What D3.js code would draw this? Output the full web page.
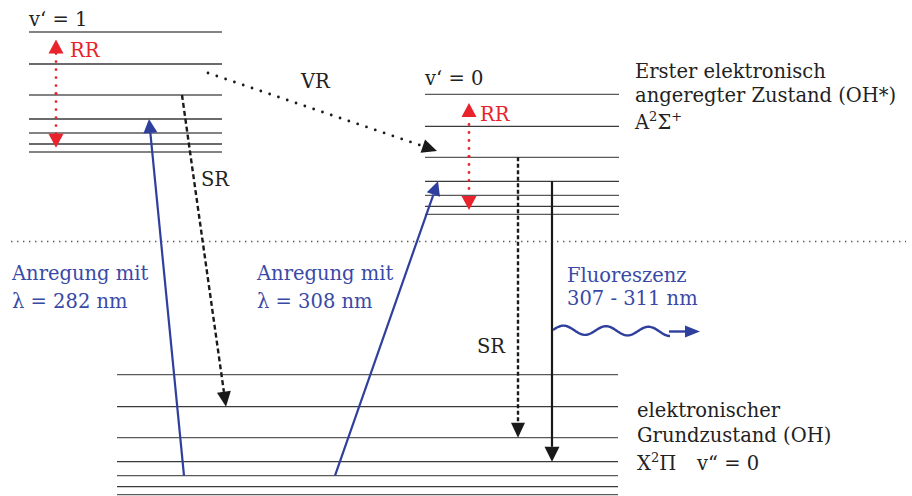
<!DOCTYPE html>
<html>
<head>
<meta charset="utf-8">
<script src="https://cdn.jsdelivr.net/npm/d3@7"></script>
<style>
  html, body { margin: 0; padding: 0; background: #fff; }
  svg { display: block; }
  text { font-family: "DejaVu Serif", "Liberation Serif", serif; font-size: 19.5px; fill: #222; }
</style>
</head>
<body>
<div id="chart"></div>
<script>
// Energy-level scheme of the OH radical (relative energy units)
const stateNames   = ["v‘ = 1", "v‘ = 0", "v“ = 0"];
const stateOrigins = [342.7, 280.4, 0];              // vibrational origins
const rotLevels    = [0, 8, 19, 33, 57, 88, 120];    // rotational sub-levels above each origin

// Transitions: [from state, from level, to state, to level]
const excitation282 = [2, 2, 0, 3];
const excitation308 = [2, 2, 1, 3];
const relaxSR1      = [0, 4, 2, 5];
const relaxSR0      = [1, 4, 2, 4];
const fluorescence  = [1, 3, 2, 3];
// Vibrational relaxation and rotational redistribution (energies)
const vrEnergies  = [421.7, 343.7];
const rr1Energies = [347.0, 455.2];
const rr0Energies = [284.7, 391.7];

const width = 912, height = 496;
const blue = "#2f3f9e", blueText = "#3949a6", red = "#e9232b", ink = "#1a1a1a";

const svg = d3.select("#chart").append("svg")
  .attr("width", width).attr("height", height);

const y = d3.scaleLinear()
  .domain([0, stateOrigins[0] + d3.max(rotLevels)])
  .range([494.7, 32]);

const energy = (s, l) => stateOrigins[s] + rotLevels[l];

// horizontal extent of each level ladder
const ladderX = [[29, 222], [425, 619], [117, 618]];

// level lines
stateOrigins.forEach((o, s) => {
  svg.append("g").selectAll("line").data(rotLevels).join("line")
    .attr("x1", ladderX[s][0]).attr("x2", ladderX[s][1])
    .attr("y1", d => y(o + d)).attr("y2", d => y(o + d))
    .attr("stroke", (d, i) => i % 2 ? "#3a3a3a" : "#5a5a5a")
    .attr("stroke-width", 1.3);
});

// dotted border between the two electronic states
svg.append("line")
  .attr("x1", 11).attr("x2", 906).attr("y1", 241.5).attr("y2", 241.5)
  .attr("stroke", "#555").attr("stroke-width", 1.4)
  .attr("stroke-dasharray", "1.4,4.6");

// arrow helper: shaft ends at the base of a filled head
function arrow(x1, y1, x2, y2, opt) {
  const L = opt.len || 14, W = opt.half || 7;
  const dx = x2 - x1, dy = y2 - y1, d = Math.hypot(dx, dy);
  const ux = dx / d, uy = dy / d;
  const bx = x2 - ux * L, by = y2 - uy * L;
  svg.append("line")
    .attr("x1", x1).attr("y1", y1).attr("x2", bx).attr("y2", by)
    .attr("stroke", opt.color).attr("stroke-width", opt.width || 2)
    .attr("stroke-linecap", opt.cap || "butt")
    .attr("stroke-dasharray", opt.dash || null);
  svg.append("path")
    .attr("d", `M${x2},${y2}L${bx - uy * W},${by + ux * W}L${bx + uy * W},${by - ux * W}Z`)
    .attr("fill", opt.color);
}

// excitation (blue)
arrow(184, y(energy(excitation282[0], excitation282[1])), 149, y(energy(excitation282[2], excitation282[3])),
      { color: blue, width: 2.2, len: 14, half: 7 });
arrow(335, y(energy(excitation308[0], excitation308[1])), 438, y(energy(excitation308[2], excitation308[3])),
      { color: blue, width: 2.2, len: 14, half: 7 });

// vibrational relaxation (dotted)
arrow(208, y(vrEnergies[0]), 437, y(vrEnergies[1]),
      { color: ink, width: 2.8, dash: "0,9.3", cap: "round", len: 15, half: 7 });

// collisional relaxation SR (dashed)
arrow(182, y(energy(relaxSR1[0], relaxSR1[1])), 226, y(energy(relaxSR1[2], relaxSR1[3])),
      { color: ink, width: 2.4, dash: "5,3", len: 15, half: 7 });
arrow(518, y(energy(relaxSR0[0], relaxSR0[1])), 518, y(energy(relaxSR0[2], relaxSR0[3])),
      { color: ink, width: 2.4, dash: "4,2.5", len: 15, half: 7 });

// fluorescence transition (solid)
arrow(552, y(energy(fluorescence[0], fluorescence[1])), 552, y(energy(fluorescence[2], fluorescence[3])),
      { color: ink, width: 2.2, len: 15, half: 7.5 });

// rotational redistribution RR (red, two-headed)
function rr(x, e) {
  const ya = y(e[0]), yb = y(e[1]);
  const mid = (ya + yb) / 2;
  arrow(x, mid, x, ya, { color: red, width: 2.8, dash: "0,8", cap: "round", len: 14, half: 7.5 });
  arrow(x, mid, x, yb, { color: red, width: 2.8, dash: "0,8", cap: "round", len: 14, half: 7.5 });
}
rr(56, rr1Energies);
rr(469, rr0Energies);

// emitted photon (wavy arrow)
const wave = d3.range(0, 117.1, 1).map(t => [553 + t, 330 - 4.5 * Math.sin(2 * Math.PI * t / 42.5) + (t / 117) * 1.5]);
svg.append("path")
  .attr("d", d3.line().curve(d3.curveBasis)(wave))
  .attr("fill", "none").attr("stroke", blue).attr("stroke-width", 2.4);
arrow(669, 331.5, 700, 331.5, { color: blue, width: 2.4, len: 15, half: 6 });

// labels
function label(x, yy, parts, color) {
  const t = svg.append("text").attr("x", x).attr("y", yy).style("fill", color || "#222");
  parts.forEach(p => {
    if (typeof p === "string") t.append("tspan").text(p);
    else {
      const s = t.append("tspan").text(p.t);
      if (p.dy) s.attr("dy", p.dy);
      if (p.size) s.style("font-size", p.size);
      if (p.x) s.attr("x", p.x);
    }
  });
  return t;
}

label(29, 26, [stateNames[0]]);
label(425, 85, [stateNames[1]]);
label(70, 57, ["RR"], red);
label(480, 121, ["RR"], red);
label(301, 88, ["VR"]);
label(201, 186, ["SR"]);
label(477, 353, ["SR"]);

label(635, 78, ["Erster elektronisch"]);
label(635, 102, ["angeregter Zustand (OH*)"]);
label(635, 129, ["A", { t: "2", dy: -8, size: "13px" }, { t: "Σ", dy: 8 }, { t: "+", dy: -8, size: "13px" }]);

label(637, 417, ["elektronischer"]);
label(637, 442, ["Grundzustand (OH)"]);
label(637, 470, ["X", { t: "2", dy: -8, size: "13px" }, { t: "Π", dy: 8 }, { t: stateNames[2], x: 697 }]);

label(12, 280, ["Anregung mit"], blueText);
label(12, 308, ["λ = 282 nm"], blueText);
label(257, 280, ["Anregung mit"], blueText);
label(257, 308, ["λ = 308 nm"], blueText);
label(567, 282, ["Fluoreszenz"], blueText);
label(567, 305, ["307 - 311 nm"], blueText);
</script>
</body>
</html>
